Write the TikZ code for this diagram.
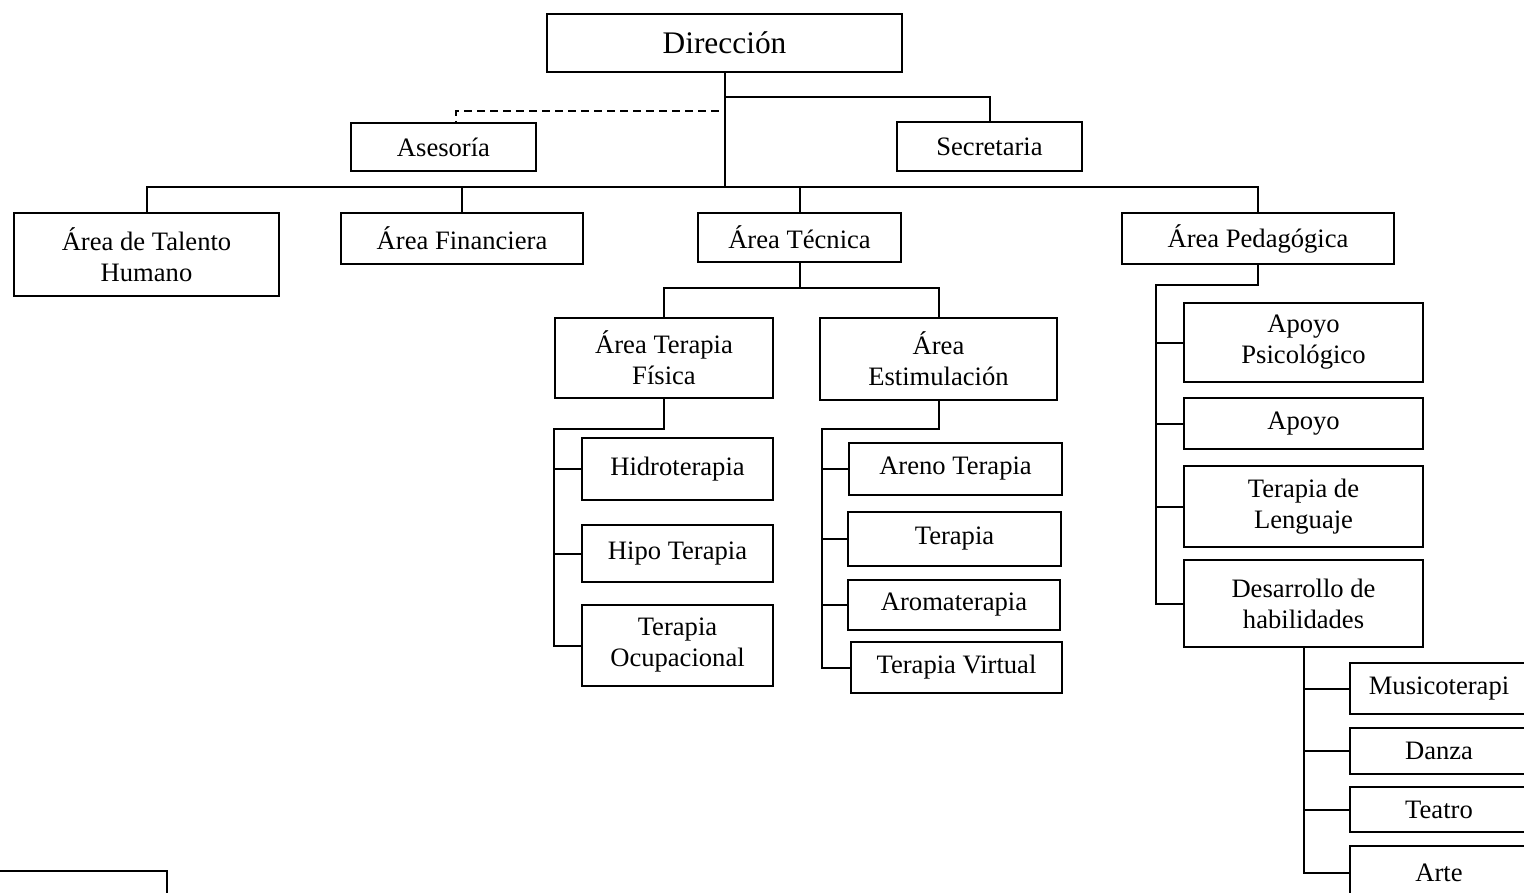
\documentclass[tikz,border=0pt]{standalone}
\usepackage{fontspec}
\setmainfont{Liberation Serif}
\usetikzlibrary{positioning}

\begin{document}
\begin{tikzpicture}[x=0.5pt, y=-0.5pt,
    box/.style={draw, line width=1pt, inner sep=0pt, align=center,
        font=\fontsize{13.3}{15.5}\selectfont},
    link/.style={line width=1pt},
    advice/.style={line width=1pt, dash pattern=on 4pt off 2.5pt}]
    \useasboundingbox (0,0) rectangle (1524,893);
    \clip (0,0) rectangle (1524,893);

    % Direction and staff
    \node[box, minimum width=177.5pt, minimum height=29pt, font=\fontsize{15.7}{19}\selectfont] (dir) at (724.5,43) {Dirección};
    \node[box, minimum width=92.5pt, minimum height=24pt] (ase) at (443.5,147) {Asesoría};
    \node[box, minimum width=92.5pt, minimum height=24.5pt] (sec) at (989.5,146.5) {Secretaria};

    % Areas
    \node[box, minimum width=132.5pt, minimum height=41.5pt] (tal) at (146.5,254.5) {Área de Talento\\Humano};
    \node[box, minimum width=121pt, minimum height=25.5pt] (fin) at (462,238.5) {Área Financiera};
    \node[box, minimum width=101.5pt, minimum height=24.5pt] (tec) at (799.5,237.5) {Área Técnica};
    \node[box, minimum width=136pt, minimum height=25.5pt] (ped) at (1258,238.5) {Área Pedagógica};

    % Technical area
    \node[box, minimum width=109pt, minimum height=40pt] (tf) at (664,358) {Área Terapia\\Física};
    \node[box, minimum width=118.5pt, minimum height=41pt] (est) at (938.5,359) {Área\\Estimulación};

    \node[box, minimum width=95.5pt, minimum height=31pt] (hid) at (677.5,469) {Hidroterapia};
    \node[box, minimum width=95.5pt, minimum height=28.5pt] (hipo) at (677.5,553.5) {Hipo Terapia};
    \node[box, minimum width=95.5pt, minimum height=40.5pt] (ocu) at (677.5,645.5) {Terapia\\Ocupacional};

    \node[box, minimum width=106.5pt, minimum height=26pt] (are) at (955.5,469) {Areno Terapia};
    \node[box, minimum width=106.5pt, minimum height=27pt] (ter) at (954.5,539) {Terapia};
    \node[box, minimum width=106pt, minimum height=25pt] (aro) at (954,605) {Aromaterapia};
    \node[box, minimum width=105.5pt, minimum height=25.5pt] (vir) at (956.5,667.5) {Terapia Virtual};

    % Pedagogical area
    \node[box, minimum width=119.5pt, minimum height=39.5pt] (psi) at (1303.5,342.5) {Apoyo\\Psicológico};
    \node[box, minimum width=119.5pt, minimum height=25.5pt] (apo) at (1303.5,423.5) {Apoyo};
    \node[box, minimum width=119.5pt, minimum height=40.5pt] (len) at (1303.5,506.5) {Terapia de\\Lenguaje};
    \node[box, minimum width=119.5pt, minimum height=43.5pt] (des) at (1303.5,603.5) {Desarrollo de\\habilidades};

    \node[box, minimum width=89pt, minimum height=25.5pt] (mus) at (1439,688.5) {Musicoterapi};
    \node[box, minimum width=89pt, minimum height=23pt] (dan) at (1439,751) {Danza};
    \node[box, minimum width=89pt, minimum height=22.5pt] (tea) at (1439,809.5) {Teatro};
    \node[box, minimum width=89pt, minimum height=27pt] (art) at (1439,873) {Arte};

    % cut-off box at the bottom
    \node[box, minimum width=93.5pt, minimum height=39pt] (blank) at (73.5,910) {};

    % Connectors from the direction
    \coordinate (bus) at (0,187);
    \draw[link] (dir.south) -- (dir.south |- bus);
    \draw[link] (dir.south) ++(0,24) -| (sec.north);
    \draw[advice] ([xshift=-3pt,yshift=-19pt]dir.south) -| ([xshift=6pt]ase.north);
    \draw[link] (tal.north) |- (ped.north |- bus) -- (ped.north);
    \draw[link] (fin.north) -- (fin.north |- bus);
    \draw[link] (tec.north) -- (tec.north |- bus);

    % Technical branches
    \coordinate (tb) at (0,288);
    \draw[link] (tec.south) -- (tec.south |- tb);
    \draw[link] (tf.north) |- (est.north |- tb) -- (est.north);

    \coordinate (tfs) at (554,429);
    \draw[link] (tf.south) |- (tfs) |- (ocu.west);
    \foreach \n in {hid,hipo} \draw[link] (tfs |- \n.west) -- (\n.west);

    \coordinate (ess) at (822,429);
    \draw[link] (est.south) |- (ess) |- (vir.west);
    \foreach \n in {are,ter,aro} \draw[link] (ess |- \n.west) -- (\n.west);

    % Pedagogical branches
    \coordinate (pds) at (1156,285);
    \draw[link] (ped.south) |- (pds) |- (des.west);
    \foreach \n in {psi,apo,len} \draw[link] (pds |- \n.west) -- (\n.west);

    \draw[link] (des.south) |- (art.west);
    \foreach \n in {mus,dan,tea} \draw[link] (des.south |- \n.west) -- (\n.west);
\end{tikzpicture}
\end{document}
